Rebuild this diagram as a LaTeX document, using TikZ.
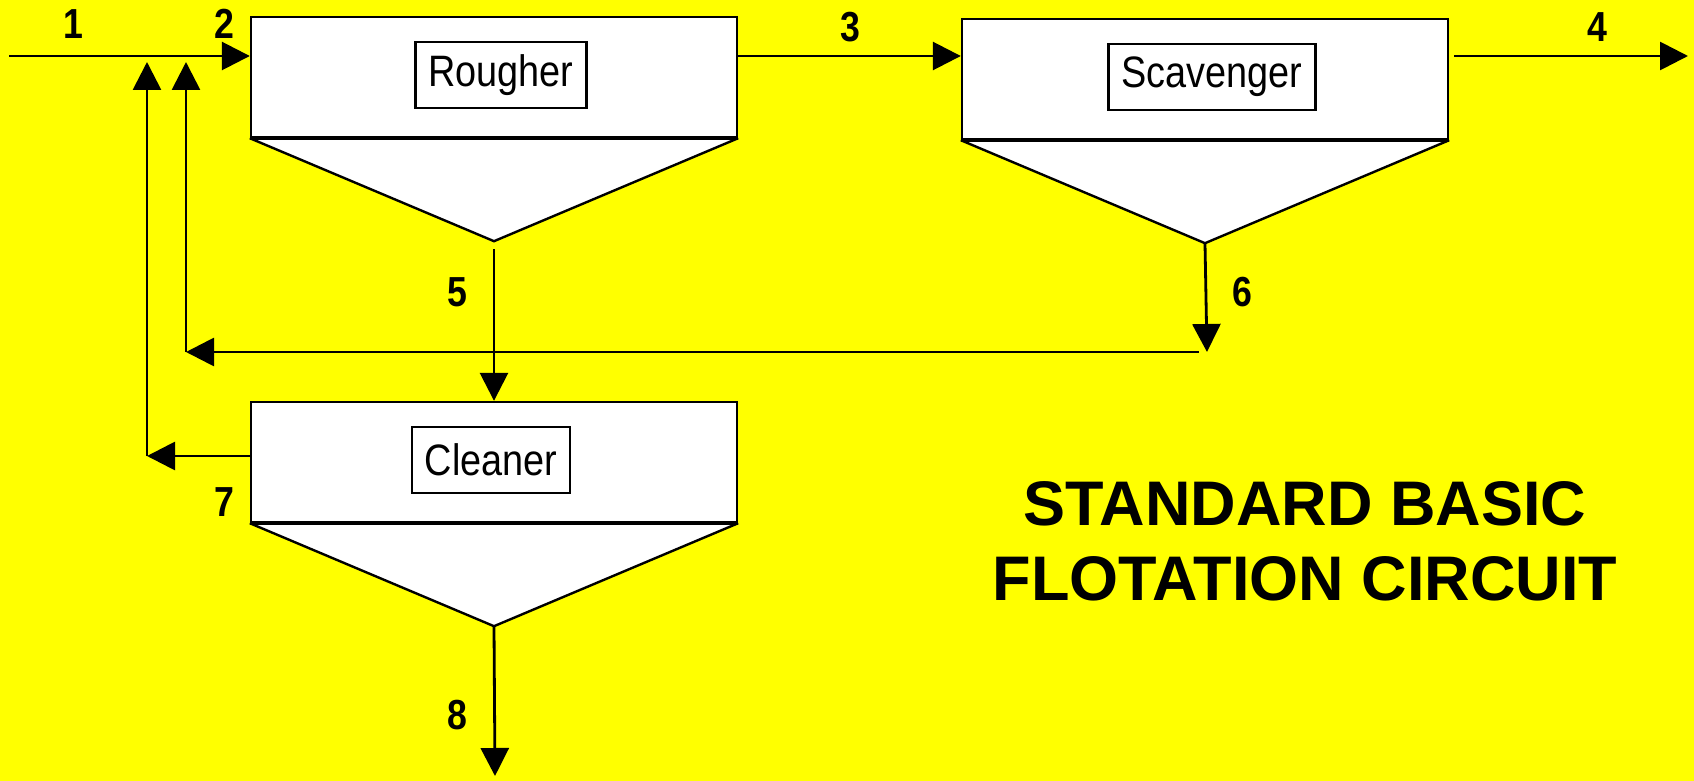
\documentclass[tikz,border=0pt]{standalone}
\usepackage{fontspec}
\setmainfont{Liberation Sans}
\newfontfamily\narrowfont[FakeStretch=0.86]{Liberation Sans}
\newfontfamily\numfont[FakeStretch=0.85]{Liberation Sans}
\usepackage{tikz}
\usetikzlibrary{arrows.meta,calc,positioning}
\definecolor{slideyellow}{RGB}{255,255,0}

\begin{document}
\begin{tikzpicture}[x=0.5pt,y=-0.5pt,
    tank style/.style={draw, fill=white, line width=1.2pt, minimum width=243pt, minimum height=60pt, inner sep=0pt},
    label style/.style={draw, fill=white, line width=1.1pt, font=\narrowfont\fontsize{22}{22}\selectfont, inner xsep=6.5pt, minimum height=33pt},
    num style/.style={font=\numfont\bfseries\fontsize{21}{21}\selectfont},
    title style/.style={font=\bfseries\fontsize{31.5}{37.5}\selectfont, align=center},
    flow style/.style={line width=1.4pt, -{Triangle[length=14pt,width=14pt]}}
]
\fill[slideyellow] (0,0) rectangle (1694,781);
\useasboundingbox (0,0) rectangle (1694,781);

\node[tank style] (rougher) at (494,77) {};
\node[tank style] (scavenger) at (1205,79) {};
\node[tank style] (cleaner) at (494,462) {};

\foreach \t in {rougher,scavenger,cleaner}{
    \coordinate (\t-apex) at ($(\t.south)+(0,103)$);
    \filldraw[fill=white, line width=1.2pt] (\t.south west) -- (\t-apex) -- (\t.south east);
    \draw[line width=2pt] (\t.south west) -- (\t.south east);
}

\node[label style] (rougher label) at (501,75) {Rougher};
\node[label style] (scavenger label) at (1212,77) {Scavenger};
\node[label style] (cleaner label) at (491,460) {Cleaner};

\coordinate (feed) at (9,56);
\coordinate (tail) at (1688,56);
\coordinate (ret6) at (1207,352);
\coordinate (ret7) at (147,456);
\coordinate (up6) at (186,62);
\coordinate (up7) at (147,62);
\coordinate (out8) at (495,776);

\draw[flow style] (feed) -- (feed -| rougher.west);
\draw[flow style] (feed -| rougher.east) -- (feed -| scavenger.west);
\draw[flow style] ($(feed -| scavenger.east)+(5,0)$) -- (tail);
\draw[flow style] ($(rougher-apex)+(0,8)$) -- (cleaner.north -| rougher-apex);
\draw[flow style] (scavenger-apex) -- (ret6);
\draw[flow style] ($(ret6)+(-8,0)$) -- (ret6 -| up6);
\draw[flow style] (ret6 -| up6) -- (up6);
\draw[flow style] (ret7 -| cleaner.west) -- (ret7);
\draw[flow style] (ret7) -- (up7);
\draw[flow style] (cleaner-apex) -- (out8);

\node[num style] (n1) at (73,24) {1};
\node[num style] (n2) at (224,24) {2};
\node[num style] (n3) at (850,27) {3};
\node[num style] (n4) at (1597,27) {4};
\node[num style] (n5) at (457,292) {5};
\node[num style] (n6) at (1242,292) {6};
\node[num style] (n7) at (224,502) {7};
\node[num style] (n8) at (457,715) {8};

\node[title style] (title) at (1305,541) {STANDARD BASIC\\FLOTATION CIRCUIT};
\end{tikzpicture}
\end{document}
